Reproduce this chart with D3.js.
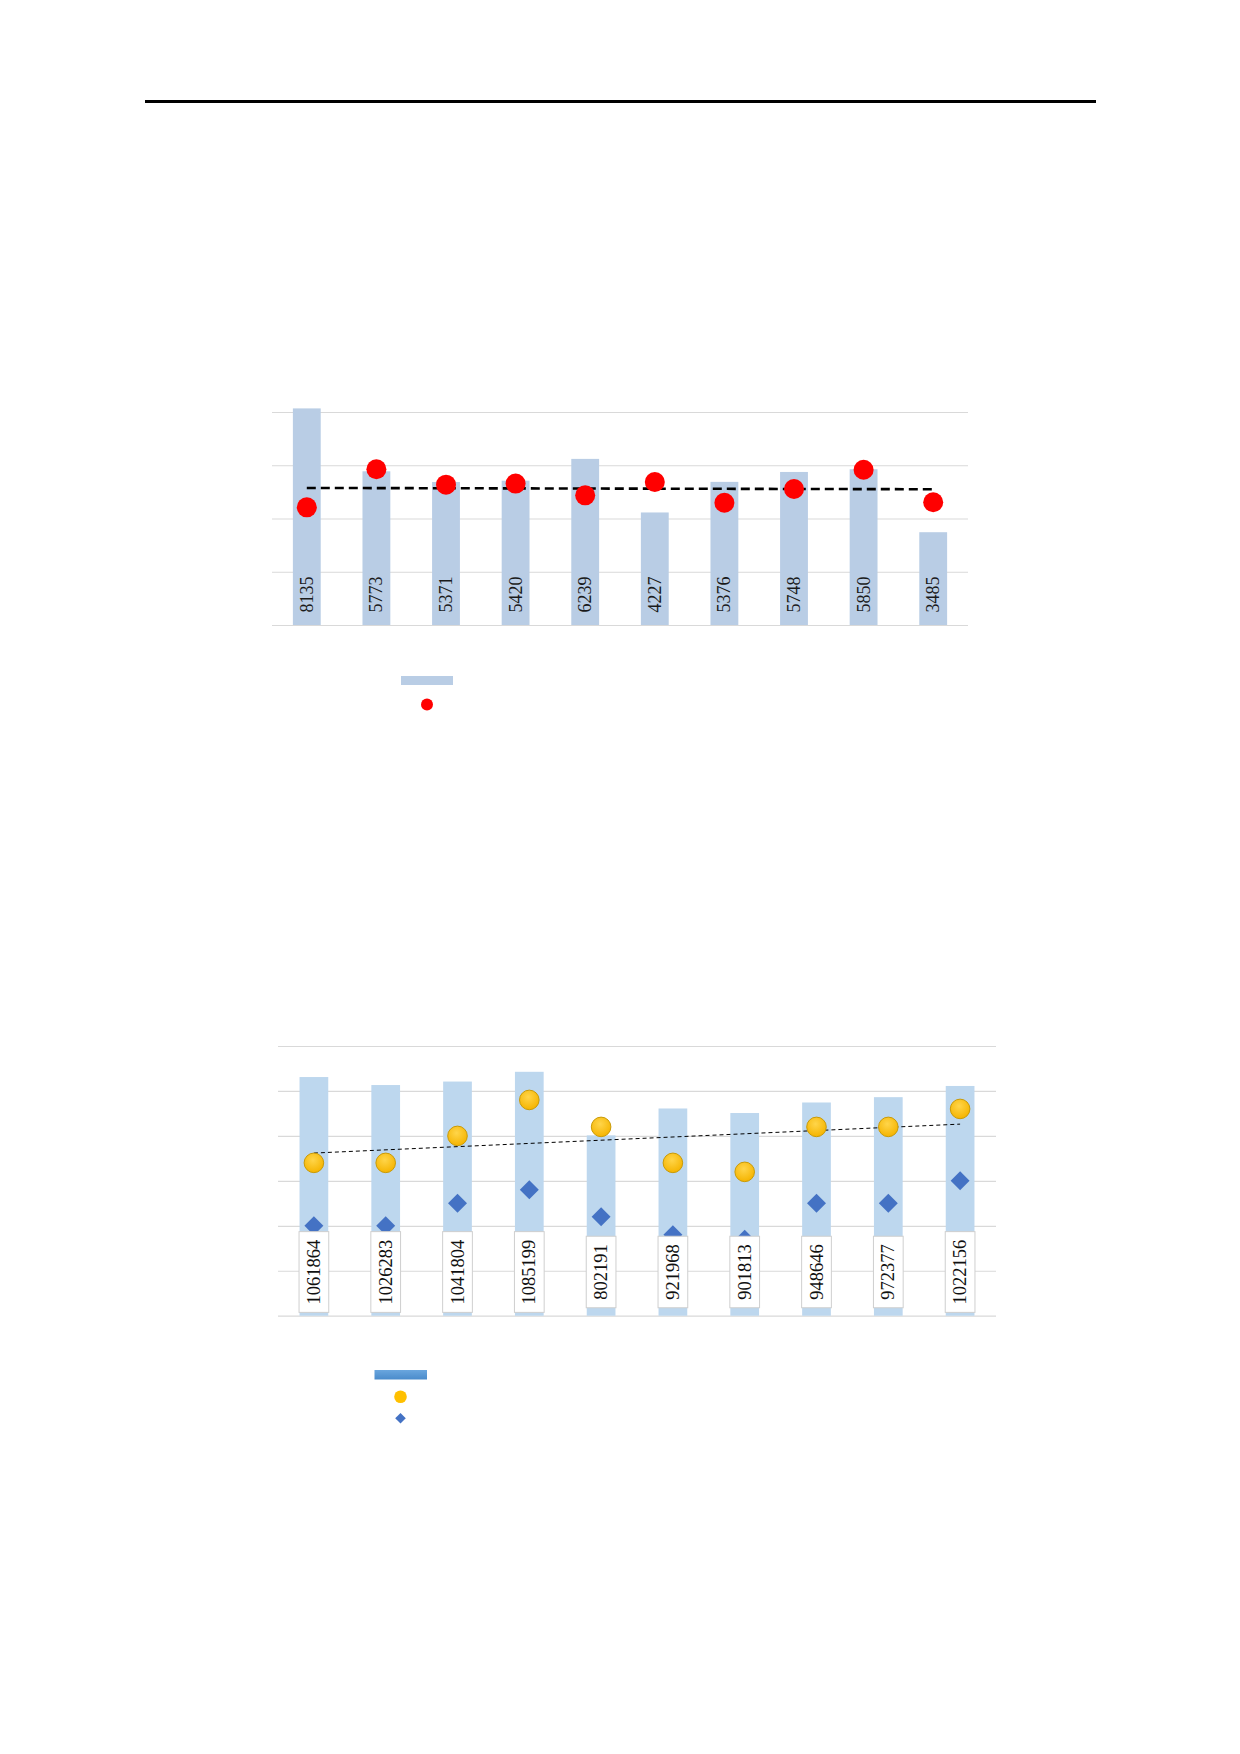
<!DOCTYPE html>
<html>
<head>
<meta charset="utf-8">
<script src="https://cdn.jsdelivr.net/npm/d3@7"></script>
<style>
  html, body { margin: 0; padding: 0; background: #ffffff; }
  svg { display: block; }
</style>
</head>
<body>
<svg id="page" width="1240" height="1754"></svg>
<script>
// ---------------- Data ----------------
const categories = ["1", "2", "3", "4", "5", "6", "7", "8", "9", "10"];

// Chart 1
const barValues1 = [8135, 5773, 5371, 5420, 6239, 4227, 5376, 5748, 5850, 3485];
const dotValues1 = [44.2, 58.5, 52.7, 53.1, 48.7, 53.7, 45.9, 51.1, 58.3, 46.1];
const ticks1 = [0, 2000, 4000, 6000, 8000];
const ticks1Secondary = [0, 20, 40, 60, 80];

// Chart 2
const barValues2 = [1061864, 1026283, 1041804, 1085199, 802191, 921968, 901813, 948646, 972377, 1022156];
const circleValues2 = [34, 34, 40, 48, 42, 34, 32, 42, 42, 46];
const diamondValues2 = [20, 20, 25, 28, 22, 18, 17, 25, 25, 30];
const ticks2 = [0, 200000, 400000, 600000, 800000, 1000000, 1200000];
const ticks2Secondary = [0, 10, 20, 30, 40, 50, 60];

// ---------------- Helpers ----------------
const svg = d3.select("#page");
const defs = svg.append("defs");

const yellowGrad = defs.append("radialGradient").attr("id", "yellowGrad")
  .attr("cx", "45%").attr("cy", "35%").attr("r", "65%");
yellowGrad.append("stop").attr("offset", "0%").attr("stop-color", "#FFD54A");
yellowGrad.append("stop").attr("offset", "100%").attr("stop-color", "#F5B400");

const legendBlue = defs.append("linearGradient").attr("id", "legendBlue")
  .attr("x1", 0).attr("y1", 0).attr("x2", 0).attr("y2", 1);
legendBlue.append("stop").attr("offset", "0%").attr("stop-color", "#6AA6DE");
legendBlue.append("stop").attr("offset", "100%").attr("stop-color", "#4A8BCB");

function regressionLine(values) {
  const n = values.length;
  const xs = d3.range(n);
  const mx = d3.mean(xs), my = d3.mean(values);
  let sxy = 0, sxx = 0;
  xs.forEach((x, i) => { sxy += (x - mx) * (values[i] - my); sxx += (x - mx) * (x - mx); });
  const slope = sxy / sxx;
  const intercept = my - slope * mx;
  return [0, n - 1].map(i => ({ i, v: intercept + slope * i }));
}

// ---------------- Top rule ----------------
svg.append("line")
  .attr("x1", 145).attr("x2", 1096)
  .attr("y1", 101.5).attr("y2", 101.5)
  .attr("stroke", "#000").attr("stroke-width", 3);

// ---------------- Chart 1 ----------------
(function () {
  const left = 272, right = 968, top = 412, bottom = 625;
  const x = d3.scaleBand().domain(categories).range([left, right])
    .paddingInner(0.6).paddingOuter(0.3);
  const y = d3.scaleLinear().domain([0, 8000]).range([bottom, top]);
  const y2 = d3.scaleLinear().domain([0, 80]).range([bottom, top]);
  const g = svg.append("g");

  // gridlines
  g.append("g").attr("transform", `translate(${left},0)`)
    .call(d3.axisLeft(y).tickValues(ticks1).tickSize(-(right - left)).tickFormat(""))
    .call(a => a.select(".domain").remove())
    .call(a => a.selectAll(".tick line").attr("stroke", "#D9D9D9").attr("stroke-width", 1.2));

  // bars
  g.selectAll("rect.bar").data(barValues1).join("rect")
    .attr("class", "bar")
    .attr("x", (d, i) => x(categories[i]))
    .attr("width", x.bandwidth())
    .attr("y", d => y(d))
    .attr("height", d => y(0) - y(d))
    .attr("fill", "#B9CDE5");

  // labels
  g.selectAll("text.lbl").data(barValues1).join("text")
    .attr("class", "lbl")
    .attr("transform", (d, i) => `translate(${x(categories[i]) + x.bandwidth() / 2},${bottom - 12.5}) rotate(-90)`)
    .attr("text-anchor", "start")
    .attr("dominant-baseline", "central")
    .attr("font-family", "'Liberation Serif', 'Times New Roman', serif")
    .attr("font-size", 18)
    .attr("fill", "#1a1a1a")
    .text(d => d);

  // trend line
  const trend = regressionLine(dotValues1);
  g.append("path")
    .attr("d", d3.line().x(p => x(categories[p.i]) + x.bandwidth() / 2).y(p => y2(p.v))(trend))
    .attr("fill", "none").attr("stroke", "#000").attr("stroke-width", 2.6)
    .attr("stroke-dasharray", "9,5");

  // dots
  g.selectAll("circle.dot").data(dotValues1).join("circle")
    .attr("class", "dot")
    .attr("cx", (d, i) => x(categories[i]) + x.bandwidth() / 2)
    .attr("cy", d => y2(d))
    .attr("r", 10)
    .attr("fill", "#FF0000");

  // legend
  g.append("rect").attr("x", 401).attr("y", 676).attr("width", 52).attr("height", 9).attr("fill", "#B9CDE5");
  g.append("circle").attr("cx", 427).attr("cy", 704.5).attr("r", 6).attr("fill", "#FF0000");
})();

// ---------------- Chart 2 ----------------
(function () {
  const left = 278, right = 996, top = 1046, bottom = 1315.7;
  const x = d3.scaleBand().domain(categories).range([left, right])
    .paddingInner(0.6).paddingOuter(0.3);
  const y = d3.scaleLinear().domain([0, 1200000]).range([bottom, top]);
  const y2 = d3.scaleLinear().domain([0, 60]).range([bottom, top]);
  const g = svg.append("g");

  g.append("g").attr("transform", `translate(${left},0)`)
    .call(d3.axisLeft(y).tickValues(ticks2).tickSize(-(right - left)).tickFormat(""))
    .call(a => a.select(".domain").remove())
    .call(a => a.selectAll(".tick line").attr("stroke", "#D9D9D9").attr("stroke-width", 1.2));

  g.selectAll("rect.bar").data(barValues2).join("rect")
    .attr("class", "bar")
    .attr("x", (d, i) => x(categories[i]))
    .attr("width", x.bandwidth())
    .attr("y", d => y(d))
    .attr("height", d => y(0) - y(d))
    .attr("fill", "#BDD7EE");

  const cx = i => x(categories[i]) + x.bandwidth() / 2;

  // trend line of circle series
  const trend = regressionLine(circleValues2);
  g.append("path")
    .attr("d", d3.line().x(p => cx(p.i)).y(p => y2(p.v))(trend))
    .attr("fill", "none").attr("stroke", "#000").attr("stroke-width", 1)
    .attr("stroke-dasharray", "4,3");

  // diamonds
  const diamond = d3.symbol().type(d3.symbolSquare).size(180);
  g.selectAll("path.dia").data(diamondValues2).join("path")
    .attr("class", "dia")
    .attr("d", diamond)
    .attr("transform", (d, i) => `translate(${cx(i)},${y2(d)}) rotate(45)`)
    .attr("fill", "#4472C4");

  // circles
  g.selectAll("circle.c").data(circleValues2).join("circle")
    .attr("class", "c")
    .attr("cx", (d, i) => cx(i))
    .attr("cy", d => y2(d))
    .attr("r", 9.8)
    .attr("fill", "url(#yellowGrad)")
    .attr("stroke", "#C99A06").attr("stroke-width", 1);

  // labels with boxes
  const fontSize = 18.5;
  const charW = fontSize * 0.5;
  const labelCenterY = 1272;
  const lg = g.selectAll("g.lbl").data(barValues2).join("g")
    .attr("class", "lbl")
    .attr("transform", (d, i) => `translate(${cx(i)},${labelCenterY})`);
  lg.append("rect")
    .attr("x", -x.bandwidth() / 2 - 0.5)
    .attr("width", x.bandwidth() + 1)
    .attr("y", d => -(String(d).length * charW + 16) / 2)
    .attr("height", d => String(d).length * charW + 16)
    .attr("fill", "#ffffff")
    .attr("stroke", "#CFCFCF").attr("stroke-width", 1);
  lg.append("text")
    .attr("transform", "rotate(-90)")
    .attr("text-anchor", "middle")
    .attr("dominant-baseline", "central")
    .attr("font-family", "'Liberation Serif', 'Times New Roman', serif")
    .attr("font-size", fontSize)
    .attr("fill", "#111")
    .text(d => d);

  // legend
  g.append("rect").attr("x", 374.5).attr("y", 1370).attr("width", 52.5).attr("height", 9.5).attr("fill", "url(#legendBlue)");
  g.append("circle").attr("cx", 400.5).attr("cy", 1396.7).attr("r", 6.3).attr("fill", "#FFC000");
  g.append("path").attr("d", d3.symbol().type(d3.symbolSquare).size(56))
    .attr("transform", "translate(400.5,1418.3) rotate(45)").attr("fill", "#4472C4");
})();
</script>
</body>
</html>
